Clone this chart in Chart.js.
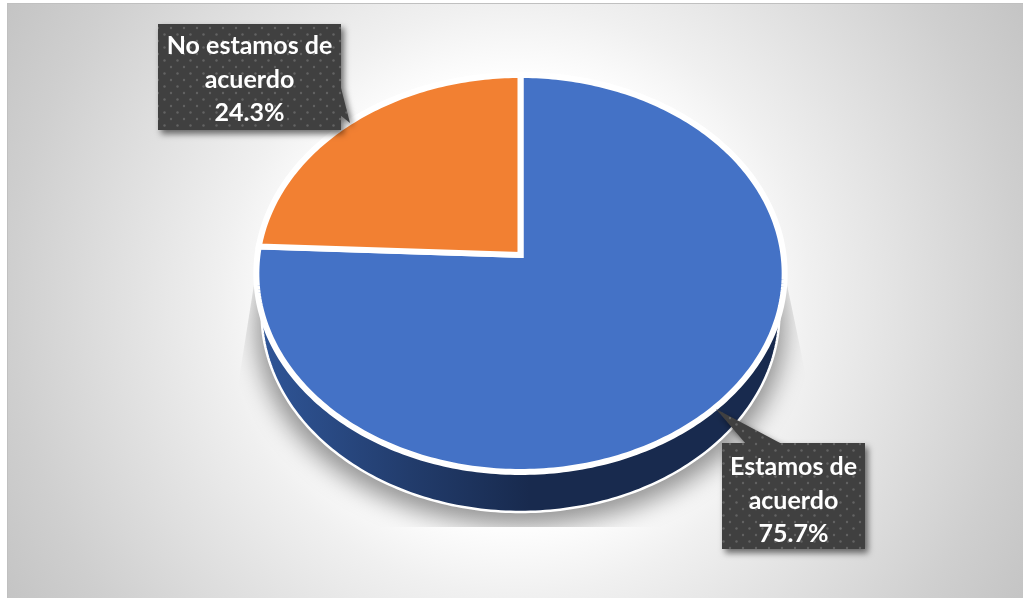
<!DOCTYPE html>
<html><head><meta charset="utf-8">
<script src="https://cdn.jsdelivr.net/npm/chart.js@4/dist/chart.umd.min.js"></script>
<style>
html,body{margin:0;padding:0;background:#fff;overflow:hidden}
#bg{position:absolute;left:7px;top:3px;width:1016px;height:595px;box-sizing:border-box;
border-left:1px solid #c0c0c0;border-top:1px solid #c0c0c0;
background:radial-gradient(circle 590px at 508px 297px,#ffffff 0px,#ffffff 200px,#fdfdfd 230px,#f6f6f6 265px,#f0f0f0 295px,#cfcfcf 505px,#c4c4c4 590px)}
canvas{position:absolute;left:0;top:0}
</style></head><body>
<div id="bg"></div>
<canvas id="c" width="1023" height="598"></canvas>
<script>
const categories = ["Estamos de acuerdo", "No estamos de acuerdo"];
const values = [75.7, 24.3];
const sliceColors = ["#4472c6", "#f28032"];
const calloutLines = [["Estamos de", "acuerdo"], ["No estamos de", "acuerdo"]];

// Perspective of the tilted disc: unit disc -> picture
const P = {cx:520.5, A:263, a:173, b:255, c:-0.0932};
const project = (u,v,sx=1,dy=0)=>{
  const w = 1 + P.c*v;
  return [P.cx + sx*P.A*u/w, (P.a*v + P.b)/w + dy];
};
function warpedContext(ctx, el){
  const map=(x,y)=>project((x-el.x)/el.outerRadius,(y-el.y)/el.outerRadius);
  const over={
    arc(x,y,r,a0,a1,ccw){
      let d=a1-a0; const n=Math.max(8,Math.ceil(Math.abs(d)*60));
      for(let i=0;i<=n;i++){const t=a0+d*i/n;const p=map(x+r*Math.cos(t),y+r*Math.sin(t));
        ctx.lineTo(p[0],p[1]);}
    },
    lineTo(x,y){const p=map(x,y);ctx.lineTo(p[0],p[1]);},
    moveTo(x,y){const p=map(x,y);ctx.moveTo(p[0],p[1]);}
  };
  return new Proxy(ctx,{
    get(t,k){ if(k in over) return over[k]; const v=t[k]; return typeof v==='function'?v.bind(t):v; },
    set(t,k,v){ t[k]=v; return true; }
  });
}
function discPath(ctx,sx,dy){
  ctx.beginPath();
  for(let i=0;i<=360;i++){const t=i*Math.PI/180;const p=project(Math.cos(t),Math.sin(t),sx,dy);
    i?ctx.lineTo(p[0],p[1]):ctx.moveTo(p[0],p[1]);}
  ctx.closePath();
}
function dotted(ctx){
  const t=document.createElement('canvas');t.width=t.height=13;
  const g=t.getContext('2d');g.fillStyle='#404040';g.fillRect(0,0,13,13);
  g.fillStyle='#636363';
  [[2,2],[8.5,8.5]].forEach(([x,y])=>{g.beginPath();g.arc(x,y,1.2,0,7);g.fill();});
  return ctx.createPattern(t,'repeat');
}
function callout(ctx,box,tail,lines){
  ctx.save();
  ctx.shadowColor='rgba(0,0,0,.55)';ctx.shadowBlur=6;ctx.shadowOffsetX=3;ctx.shadowOffsetY=4;
  const pat=dotted(ctx);
  ctx.fillStyle=pat;
  ctx.beginPath();ctx.rect(box.x,box.y,box.w,box.h);ctx.fill();
  ctx.beginPath();ctx.moveTo(tail[0][0],tail[0][1]);tail.slice(1).forEach(p=>ctx.lineTo(p[0],p[1]));ctx.closePath();ctx.fill();
  ctx.shadowColor='transparent';
  ctx.fillRect(box.x,box.y,box.w,box.h);
  ctx.fillStyle='#ffffff';
  ctx.font='700 '+box.font+'px Lato';ctx.textAlign='center';ctx.textBaseline='middle';
  lines.forEach((s,i)=>ctx.fillText(s,box.x+box.w/2,box.y+box.first+i*box.gap));
  ctx.restore();
}
const disc3d={
  id:'disc3d',
  beforeDatasetDraw(chart){
    const ctx=chart.ctx;
    const arcs=chart.getDatasetMeta(0).data;
    // soft shadow
    ctx.save();
    ctx.beginPath();
    [[256,272],[238,385],[300,527],[740,527],[808,385],[786,280]].forEach((p,i)=>i?ctx.lineTo(p[0],p[1]):ctx.moveTo(p[0],p[1]));
    ctx.closePath();ctx.clip();
    ctx.filter='blur(12px)';
    ctx.fillStyle='rgba(0,0,0,.42)';
    discPath(ctx,1.0,54);ctx.fill();
    ctx.restore();
    // side wall
    ctx.save();
    const g=ctx.createLinearGradient(262,0,530,0);
    g.addColorStop(0,'#2f5597');g.addColorStop(.55,'#223c6c');g.addColorStop(1,'#182a4e');
    discPath(ctx,0.98,40);
    ctx.fillStyle=g;ctx.fill();
    ctx.strokeStyle='#ffffff';ctx.lineWidth=2.5;ctx.stroke();
    ctx.restore();
    // slices through the library's arc elements
    arcs.forEach(el=>el.draw(warpedContext(ctx,el)));
    return false;
  },
  afterDraw(chart){
    const ctx=chart.ctx;
    const pct=values.map(v=>v.toFixed(1)+'%');
    callout(ctx,{x:158,y:24,w:183,h:106,font:25,first:22,gap:33.5},
      [[340,84],[350,123],[340,115]],[...calloutLines[1],pct[1]]);
    callout(ctx,{x:722,y:443,w:143,h:106,font:25,first:24,gap:33.5},
      [[716,409],[746,444],[782,444]],[...calloutLines[0],pct[0]]);
  }
};
new Chart(document.getElementById('c'),{
  type:'pie',
  data:{labels:categories,datasets:[{data:values,backgroundColor:sliceColors,
    borderColor:'#ffffff',borderWidth:6,borderJoinStyle:'miter',borderAlign:'center'}]},
  options:{responsive:false,animation:false,devicePixelRatio:1,
    layout:{padding:20},
    plugins:{legend:{display:false},tooltip:{enabled:false},title:{display:false}}},
  plugins:[disc3d]
});
</script>
</body></html>
